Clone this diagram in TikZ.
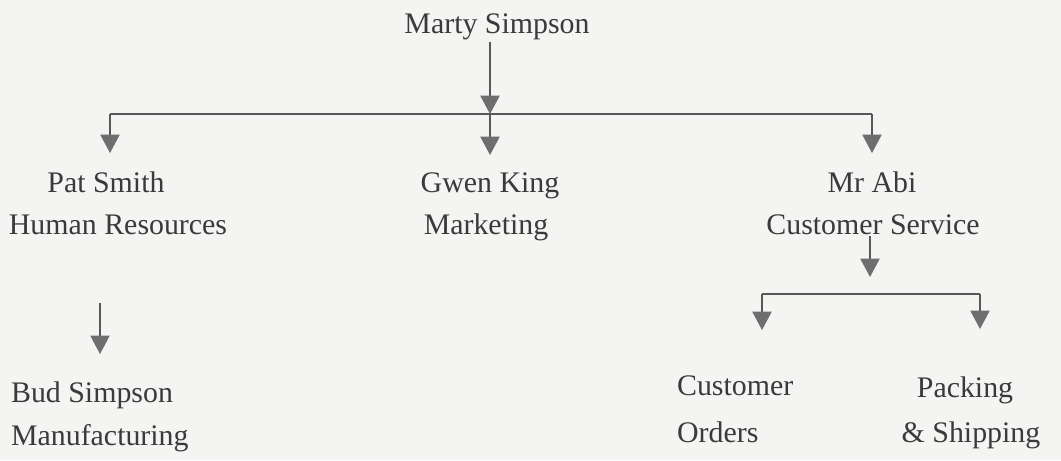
\documentclass[tikz,border=0pt]{standalone}
\usepackage{fontspec}
\setmainfont{Liberation Serif}
\usetikzlibrary{arrows.meta}
\definecolor{ink}{HTML}{3A3A3A}
\definecolor{headc}{HTML}{6E6E6E}
\definecolor{bg}{HTML}{F4F4F3}
\begin{document}
\begin{tikzpicture}[x=0.02cm,y=-0.02cm,
  lbl/.style={font=\fontsize{17}{20}\selectfont, text=ink, inner sep=1pt, anchor=base},
  conn/.style={draw=ink!85, line width=0.85pt},
  arr/.style={conn, -{Triangle[width=11pt,length=10.5pt,color=headc,fill=headc]}}]
\fill[bg] (0,0) rectangle (1061,460);
\useasboundingbox (0,0) rectangle (1061,460);
% nodes
\node[lbl] (marty) at (497,33) {Marty Simpson};
\node[lbl] (pat) at (106,192) {Pat Smith};
\node[lbl] (patd) at (118,234) {Human Resources};
\node[lbl] (gwen) at (490,192) {Gwen King};
\node[lbl] (gwend) at (486,234) {Marketing};
\node[lbl] (abi) at (872,192) {Mr Abi};
\node[lbl] (abid) at (873,234) {Customer Service};
\node[lbl, anchor=base west] (bud) at (9,402) {Bud Simpson};
\node[lbl, anchor=base west] (budd) at (9,445) {Manufacturing};
\node[lbl, anchor=base west] (co) at (675,395) {Customer};
\node[lbl, anchor=base west] (cod) at (675,442) {Orders};
\node[lbl] (pk) at (965,397) {Packing};
\node[lbl] (pkd) at (971,442) {\& Shipping};
% junctions and arrow ends
\coordinate (j1) at (490,114);
\coordinate (jl) at (110,114);
\coordinate (jr) at (872,114);
\coordinate (tl) at (110,153);
\coordinate (tm) at (490,155);
\coordinate (tr) at (872,153);
\coordinate (hs) at (100,303);
\coordinate (ht) at (100,354);
\coordinate (cs) at (870,277);
\coordinate (kl) at (762,294);
\coordinate (kr) at (980,294);
\coordinate (tkl) at (762,330);
\coordinate (tkr) at (980,329);
% connectors
\draw[arr] (j1 |- marty.south) -- (j1);
\draw[conn] (jl) -- (jr);
\draw[arr] (jl) -- (tl);
\draw[arr] (j1) -- (tm);
\draw[arr] (jr) -- (tr);
\draw[arr] (hs) -- (ht);
\draw[arr] (cs |- abid.south) -- (cs);
\draw[conn] (kl) -- (kr);
\draw[arr] (kl) -- (tkl);
\draw[arr] (kr) -- (tkr);
\end{tikzpicture}
\end{document}
